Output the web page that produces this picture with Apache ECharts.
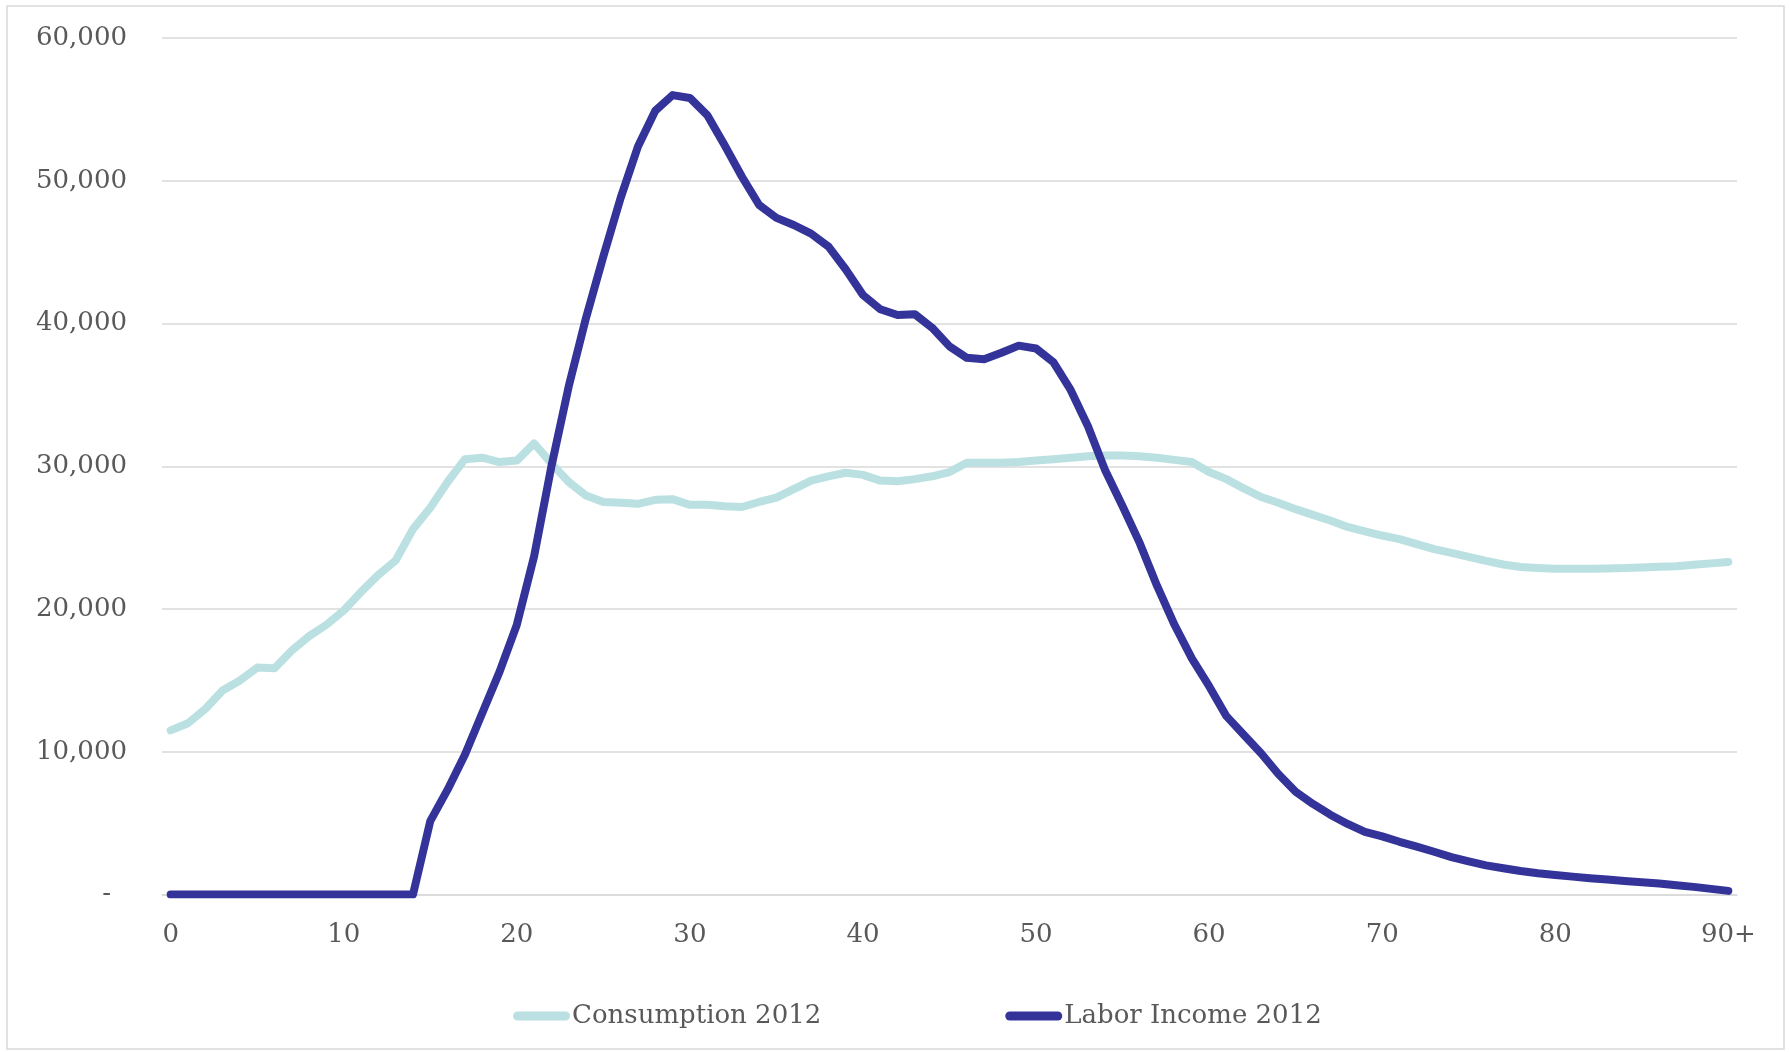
<!DOCTYPE html>
<html>
<head>
<meta charset="utf-8">
<title>Consumption and Labor Income by Age, 2012</title>
<script src="https://cdn.jsdelivr.net/npm/echarts@6/dist/echarts.min.js"></script>
<style>
  html, body { margin: 0; padding: 0; background: #ffffff; }
  #chart { width: 1789px; height: 1052px; }
</style>
</head>
<body>
<div id="chart"></div>
<script>
// Ages 0 .. 90+ (single years)
const ages = [
  '0','1','2','3','4','5','6','7','8','9',
  '10','11','12','13','14','15','16','17','18','19',
  '20','21','22','23','24','25','26','27','28','29',
  '30','31','32','33','34','35','36','37','38','39',
  '40','41','42','43','44','45','46','47','48','49',
  '50','51','52','53','54','55','56','57','58','59',
  '60','61','62','63','64','65','66','67','68','69',
  '70','71','72','73','74','75','76','77','78','79',
  '80','81','82','83','84','85','86','87','88','89',
  '90+'
];

// Per-capita consumption by age, 2012
const consumption2012 = [
  11500, 12000, 13000, 14300, 15000, 15900, 15850, 17100, 18100, 18900,
  19900, 21200, 22400, 23400, 25600, 27100, 28900, 30500, 30600, 30300,
  30400, 31600, 30200, 28900, 27950, 27500, 27450, 27370, 27650, 27700,
  27300, 27300, 27200, 27150, 27500, 27800, 28400, 29000, 29300, 29550,
  29400, 29000, 28950, 29100, 29300, 29600, 30250, 30250, 30250, 30300,
  30400, 30500, 30600, 30700, 30750, 30750, 30700, 30600, 30450, 30300,
  29600, 29100, 28450, 27850, 27450, 27000, 26600, 26200, 25750, 25450,
  25150, 24900, 24550, 24200, 23930, 23650, 23370, 23120, 22950, 22880,
  22830, 22830, 22830, 22850, 22870, 22920, 22970, 23000, 23100, 23200,
  23300
];

// Per-capita labor income by age, 2012
const laborIncome2012 = [
  0, 0, 0, 0, 0, 0, 0, 0, 0, 0,
  0, 0, 0, 0, 0, 5150, 7350, 9800, 12700, 15600,
  18900, 23700, 30000, 35600, 40400, 44700, 48800, 52400, 54900, 56000,
  55800, 54600, 52500, 50300, 48300, 47400, 46900, 46300, 45400, 43800,
  42000, 41000, 40600, 40650, 39700, 38400, 37600, 37500, 37950, 38450,
  38250, 37300, 35350, 32800, 29700, 27200, 24600, 21600, 18900, 16550,
  14600, 12500, 11200, 9900, 8450, 7200, 6350, 5600, 4950, 4400,
  4080, 3700, 3360, 3000, 2630, 2330, 2050, 1850, 1650, 1500,
  1380, 1260, 1150, 1050, 960, 870, 770, 650, 540, 400,
  260
];

const seriesNames = ['Consumption 2012', 'Labor Income 2012'];

const FONT = '"DejaVu Serif", "Liberation Serif", serif';
const TEXT_COLOR = '#595959';
const GRID_COLOR = '#d9d9d9';
const COLORS = ['#bae0e2', '#333399'];

// Capsule-shaped legend key (line with round ends)
const capsule = 'path://M4.5,0 L52.5,0 A4.5,4.5 0 0 1 52.5,9 L4.5,9 A4.5,4.5 0 0 1 4.5,0 Z';

const chart = echarts.init(document.getElementById('chart'), null, { renderer: 'canvas' });

chart.setOption({
  animation: false,
  backgroundColor: '#ffffff',
  color: COLORS,
  graphic: [{
    type: 'rect',
    shape: { x: 7, y: 6, width: 1777, height: 1043 },
    style: { fill: 'none', stroke: GRID_COLOR, lineWidth: 1.5 },
    silent: true,
    z: -1
  }],
  grid: { left: 162, right: 52, top: 38, bottom: 157.4, containLabel: false },
  legend: {
    data: seriesNames,
    left: 508,
    top: 998,
    icon: capsule,
    itemWidth: 57,
    itemHeight: 9,
    itemGap: 184,
    textStyle: {
      fontFamily: FONT,
      fontSize: 26,
      color: TEXT_COLOR,
      padding: [0, 0, 0, -3]
    }
  },
  xAxis: {
    type: 'category',
    data: ages,
    boundaryGap: true,
    axisLine: { show: true, lineStyle: { color: GRID_COLOR, width: 1.5 } },
    axisTick: { show: false },
    axisLabel: {
      interval: 9,
      margin: 28,
      fontFamily: FONT,
      fontSize: 26,
      color: TEXT_COLOR
    },
    splitLine: { show: false }
  },
  yAxis: {
    type: 'value',
    min: 0,
    max: 60000,
    interval: 10000,
    axisLine: { show: false },
    axisTick: { show: false },
    splitLine: { show: true, lineStyle: { color: GRID_COLOR, width: 1.5 } },
    axisLabel: {
      margin: 35,
      fontFamily: FONT,
      fontSize: 26,
      color: TEXT_COLOR,
      formatter: function (v) {
        if (v === 0) return '{dash|-}';
        return v.toLocaleString('en-US');
      },
      rich: {
        dash: {
          fontFamily: FONT,
          fontSize: 26,
          color: TEXT_COLOR,
          padding: [0, 16, 0, 0]
        }
      }
    }
  },
  series: [
    {
      name: seriesNames[0],
      type: 'line',
      data: consumption2012,
      symbol: 'none',
      smooth: false,
      lineStyle: { width: 8, color: COLORS[0], cap: 'round', join: 'round' },
      itemStyle: { color: COLORS[0] },
      z: 2
    },
    {
      name: seriesNames[1],
      type: 'line',
      data: laborIncome2012,
      symbol: 'none',
      smooth: false,
      lineStyle: { width: 8, color: COLORS[1], cap: 'round', join: 'round' },
      itemStyle: { color: COLORS[1] },
      z: 3
    }
  ]
});
</script>
</body>
</html>
